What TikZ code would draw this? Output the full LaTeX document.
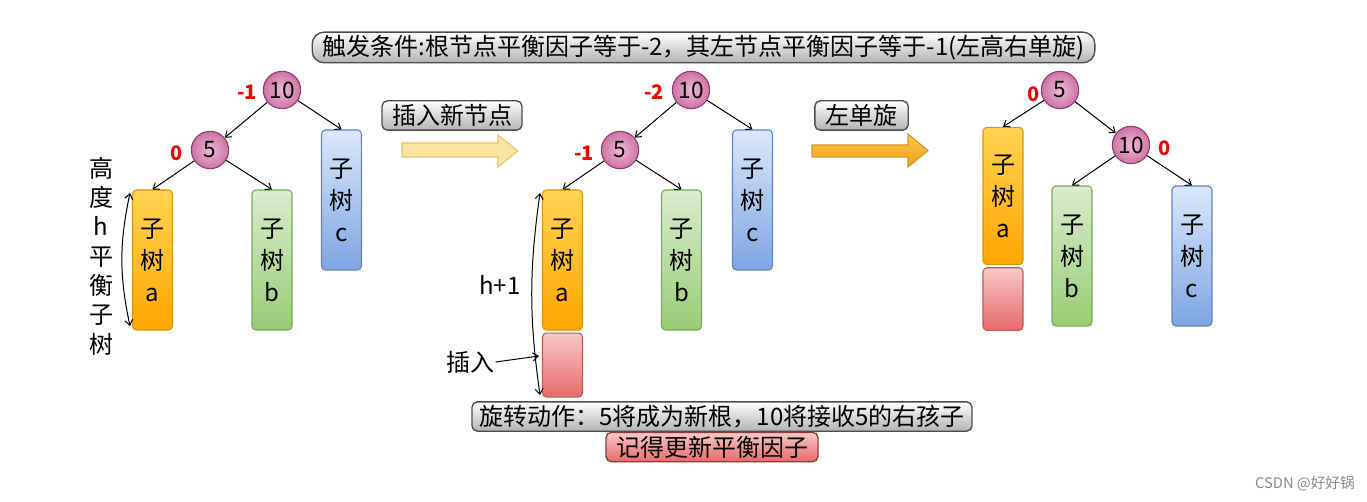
\documentclass[tikz,border=0pt]{standalone}
\usepackage{fontspec}
\setmainfont{Noto Sans CJK SC}
\usetikzlibrary{arrows.meta,positioning}
\definecolor{knotline}{RGB}{140,60,110}
\definecolor{knotin}{RGB}{238,185,215}
\definecolor{knotout}{RGB}{205,115,165}
\definecolor{bfred}{RGB}{235,10,10}
\definecolor{orline}{RGB}{215,150,20}
\definecolor{ortop}{RGB}{255,212,80}
\definecolor{orbot}{RGB}{255,165,0}
\definecolor{grline}{RGB}{120,170,90}
\definecolor{grtop}{RGB}{218,236,205}
\definecolor{grbot}{RGB}{150,205,115}
\definecolor{blline}{RGB}{100,130,190}
\definecolor{bltop}{RGB}{218,232,252}
\definecolor{blbot}{RGB}{125,165,225}
\definecolor{rdline}{RGB}{190,90,90}
\definecolor{rdtop}{RGB}{248,200,200}
\definecolor{rdbot}{RGB}{232,105,105}
\definecolor{yeline}{RGB}{225,195,110}
\definecolor{yefill}{RGB}{250,228,160}
\definecolor{arline}{RGB}{220,150,20}
\definecolor{artop}{RGB}{252,200,80}
\definecolor{arbot}{RGB}{240,160,20}

\begin{document}
\begin{tikzpicture}[x=0.75pt,y=0.75pt,yscale=-1,xscale=1,
	knot/.style={circle, draw=knotline, line width=0.8pt, inner color=knotin, outer color=knotout, minimum size=28pt, inner sep=0pt, font=\fontsize{17}{19}\selectfont},
	bf/.style={text=bfred, font=\bfseries\fontsize{15}{17}\selectfont, inner sep=1pt},
	subtree/.style={rounded corners=3pt, line width=0.8pt, minimum width=30pt, minimum height=105pt, inner sep=0pt, align=center, font=\fontsize{18}{24}\selectfont},
	orfill/.style={draw=orline, top color=ortop, bottom color=orbot},
	grfill/.style={draw=grline, top color=grtop, bottom color=grbot},
	blfill/.style={draw=blline, top color=bltop, bottom color=blbot},
	newbox/.style={rounded corners=3pt, line width=0.8pt, minimum width=30pt, minimum height=48pt, inner sep=0pt, draw=rdline, top color=rdtop, bottom color=rdbot},
	button/.style={rounded corners=4pt, draw=black!70, line width=1pt, top color=white, bottom color=black!30, minimum height=22pt, inner sep=1pt, font=\fontsize{18}{20}\selectfont},
	redbtn/.style={draw=rdline!70!black, top color=rdtop, bottom color=rdbot},
	link/.style={-{Straight Barb[length=4pt,width=6pt]}, line width=0.75pt},
	span/.style={{Straight Barb[length=4pt,width=6pt]}-{Straight Barb[length=4pt,width=6pt]}, line width=0.75pt},
	plain/.style={font=\fontsize{18}{22}\selectfont, inner sep=1pt}]
	\useasboundingbox (0,0) rectangle (1367,502);
	
	% Title
	\node[button, rounded corners=9pt, minimum width=587pt, minimum height=23pt] (title) at (703.5,47.5) {触发条件:根节点平衡因子等于-2，其左节点平衡因子等于-1(左高右单旋)};
	
	%Left tree
	\node[knot] (l10) at (282,90) {10};
	\node[knot] (l5) at (210,150) {5};
	\node[bf] (l10bf) at (247,92) {-1};
	\node[bf] (l5bf) at (177,153) {0};
	\node[subtree, orfill] (la) at (152.5,260) {子\\树\\a};
	\node[subtree, grfill] (lb) at (272,260) {子\\树\\b};
	\node[subtree, blfill] (lc) at (341.5,200) {子\\树\\c};
	\draw[link] (l10) -- (l5);
	\draw[link] (l10) -- (lc.north);
	\draw[link] (l5) -- (la.north);
	\draw[link] (l5) -- (lb.north);
	% height of a
	\node[plain, align=center] (lheight) at (101,256) {高\\度\\h\\平\\衡\\子\\树};
	\coordinate (lhtop) at (130,193);
	\coordinate (lhbot) at (130,326);
	\draw[span] (lhtop) to[bend left=12] (lhbot);
	
	%Insert arrow
	\node[button, minimum width=105pt] (insbtn) at (452,115.5) {插入新节点};
	\draw[draw=yeline, fill=yefill, line width=0.8pt] (402,143) -- (498,143) -- (498,135) -- (518,151) -- (498,167) -- (498,157) -- (402,157) -- cycle;
	
	%Middle tree
	\node[knot] (m10) at (691,90) {10};
	\node[knot] (m5) at (620,150) {5};
	\node[bf] (m10bf) at (654,92) {-2};
	\node[bf] (m5bf) at (584,153) {-1};
	\node[subtree, orfill] (ma) at (562.5,260) {子\\树\\a};
	\node[newbox, below=1.5pt of ma] (mnew) {};
	\node[subtree, grfill] (mb) at (681.5,260) {子\\树\\b};
	\node[subtree, blfill] (mc) at (752.5,200) {子\\树\\c};
	\draw[link] (m10) -- (m5);
	\draw[link] (m10) -- (mc.north);
	\draw[link] (m5) -- (ma.north);
	\draw[link] (m5) -- (mb.north);
	% height h+1
	\node[plain] (mheight) at (500,285) {h+1};
	\coordinate (mhtop) at (540,193);
	\coordinate (mhbot) at (540,395);
	\draw[span] (mhtop) to[bend left=8] (mhbot);
	\node[plain] (ins) at (470,362) {插入};
	\coordinate (inspt) at (539,356);
	\draw[link] (ins.east) -- (inspt);
	
	%Rotate arrow
	\node[button, minimum width=70pt] (rotbtn) at (861.5,115.5) {左单旋};
	\draw[draw=arline, top color=artop, bottom color=arbot, line width=0.8pt] (812,145) -- (908,145) -- (908,134) -- (928,150.5) -- (908,167) -- (908,157) -- (812,157) -- cycle;
	
	%Right tree
	\node[knot] (r5) at (1060,90) {5};
	\node[knot] (r10) at (1131,145) {10};
	\node[bf] (r5bf) at (1034,94) {0};
	\node[bf] (r10bf) at (1165,148) {0};
	\node[subtree, orfill, minimum height=103pt] (ra) at (1003,196) {子\\树\\a};
	\node[newbox, below=1.5pt of ra, minimum height=47pt] (rnew) {};
	\node[subtree, grfill] (rb) at (1072,256) {子\\树\\b};
	\node[subtree, blfill] (rc) at (1192,256) {子\\树\\c};
	\draw[link] (r5) -- (ra.north);
	\draw[link] (r5) -- (r10);
	\draw[link] (r10) -- (rb.north);
	\draw[link] (r10) -- (rc.north);
	
	% Text Node
	\node[button, minimum width=375pt] (action) at (722,416.5) {旋转动作：5将成为新根，10将接收5的右孩子};
	% Text Node
	\node[button, redbtn, minimum width=159pt] (remind) at (712,447) {记得更新平衡因子};
	% Text Node
	\node[text=black!45, font=\fontsize{11}{13}\selectfont] (mark) at (1305,484) {CSDN @好好锅};
	
\end{tikzpicture}
\end{document}
